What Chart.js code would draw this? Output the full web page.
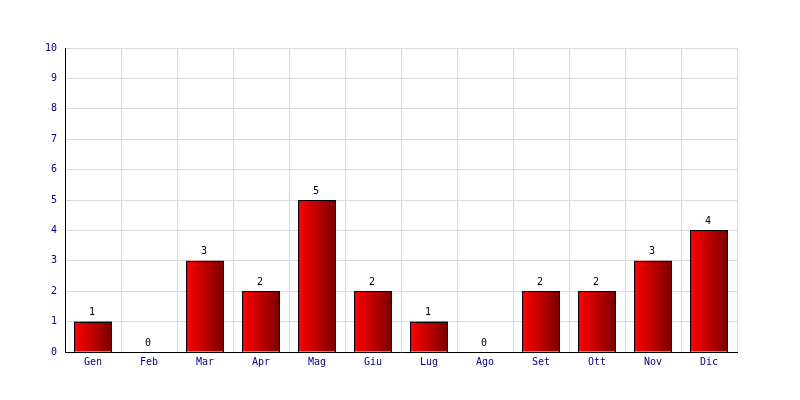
<!DOCTYPE html>
<html>
<head>
<meta charset="utf-8">
<script src="https://cdn.jsdelivr.net/npm/chart.js@4"></script>
<style>
  html, body { margin: 0; padding: 0; background: #fff; }
  #wrap { width: 800px; height: 400px; }
</style>
</head>
<body>
<div id="wrap"><canvas id="myChart" width="800" height="400"></canvas></div>
<script>
const months = ['Gen', 'Feb', 'Mar', 'Apr', 'Mag', 'Giu', 'Lug', 'Ago', 'Set', 'Ott', 'Nov', 'Dic'];
const counts = [1, 0, 3, 2, 5, 2, 1, 0, 2, 2, 3, 4];
const yTicks = [0, 1, 2, 3, 4, 5, 6, 7, 8, 9, 10];

const monoFont = { family: "'DejaVu Sans Mono', monospace", size: 10 };
const barShare = 38 / 56;

// horizontal red -> dark red gradient for each bar
function barGradient(context) {
    const chart = context.chart;
    const xScale = chart.scales.x;
    if (!chart.chartArea || !xScale || context.dataIndex === undefined) return '#e00000';
    const cx = xScale.getPixelForValue(context.dataIndex);
    const half = xScale.width / months.length * barShare / 2;
    const g = chart.ctx.createLinearGradient(cx - half, 0, cx + half, 0);
    g.addColorStop(0, '#ff0000');
    g.addColorStop(1, '#7a0000');
    return g;
}

// black outline + value above each bar
const barDecor = {
    id: 'barDecor',
    afterDatasetsDraw(chart) {
        const ctx = chart.ctx;
        const meta = chart.getDatasetMeta(0);
        ctx.save();
        ctx.strokeStyle = '#000';
        ctx.lineWidth = 1;
        meta.data.forEach((bar, i) => {
            if (counts[i] <= 0) return;
            const l = Math.round(bar.x - bar.width / 2);
            const r = Math.round(bar.x + bar.width / 2);
            const t = Math.round(bar.y);
            const b = Math.round(bar.base);
            ctx.strokeRect(l + 0.5, t + 0.5, r - l - 1, b - t);
        });
        ctx.font = "10px 'DejaVu Sans Mono', monospace";
        ctx.fillStyle = '#000';
        ctx.textAlign = 'center';
        ctx.textBaseline = 'bottom';
        meta.data.forEach((bar, i) => {
            ctx.fillText(String(counts[i]), bar.x - 1, bar.y - 4);
        });
        ctx.restore();
    }
};

new Chart(document.getElementById('myChart'), {
    type: 'bar',
    data: {
        labels: months,
        datasets: [{
            data: counts,
            backgroundColor: barGradient,
            borderWidth: 0,
            categoryPercentage: 1,
            barPercentage: barShare
        }]
    },
    options: {
        responsive: false,
        animation: false,
        layout: { padding: { top: 48, right: 63, bottom: 0, left: 0 } },
        plugins: {
            legend: { display: false },
            tooltip: { enabled: false }
        },
        scales: {
            x: {
                grid: { color: '#d9d9d9', drawTicks: false, offset: true },
                border: { color: '#000', width: 1 },
                ticks: { color: '#000080', font: monoFont, padding: 4 },
                afterFit(scale) { scale.height = 48; }
            },
            y: {
                min: 0,
                max: 10,
                afterBuildTicks(scale) { scale.ticks = yTicks.map(v => ({ value: v })); },
                grid: { color: '#d9d9d9', drawTicks: false },
                border: { color: '#000', width: 1 },
                ticks: { color: '#000080', font: monoFont, padding: 8 },
                afterFit(scale) { scale.width = 65; }
            }
        }
    },
    plugins: [barDecor]
});
</script>
</body>
</html>
